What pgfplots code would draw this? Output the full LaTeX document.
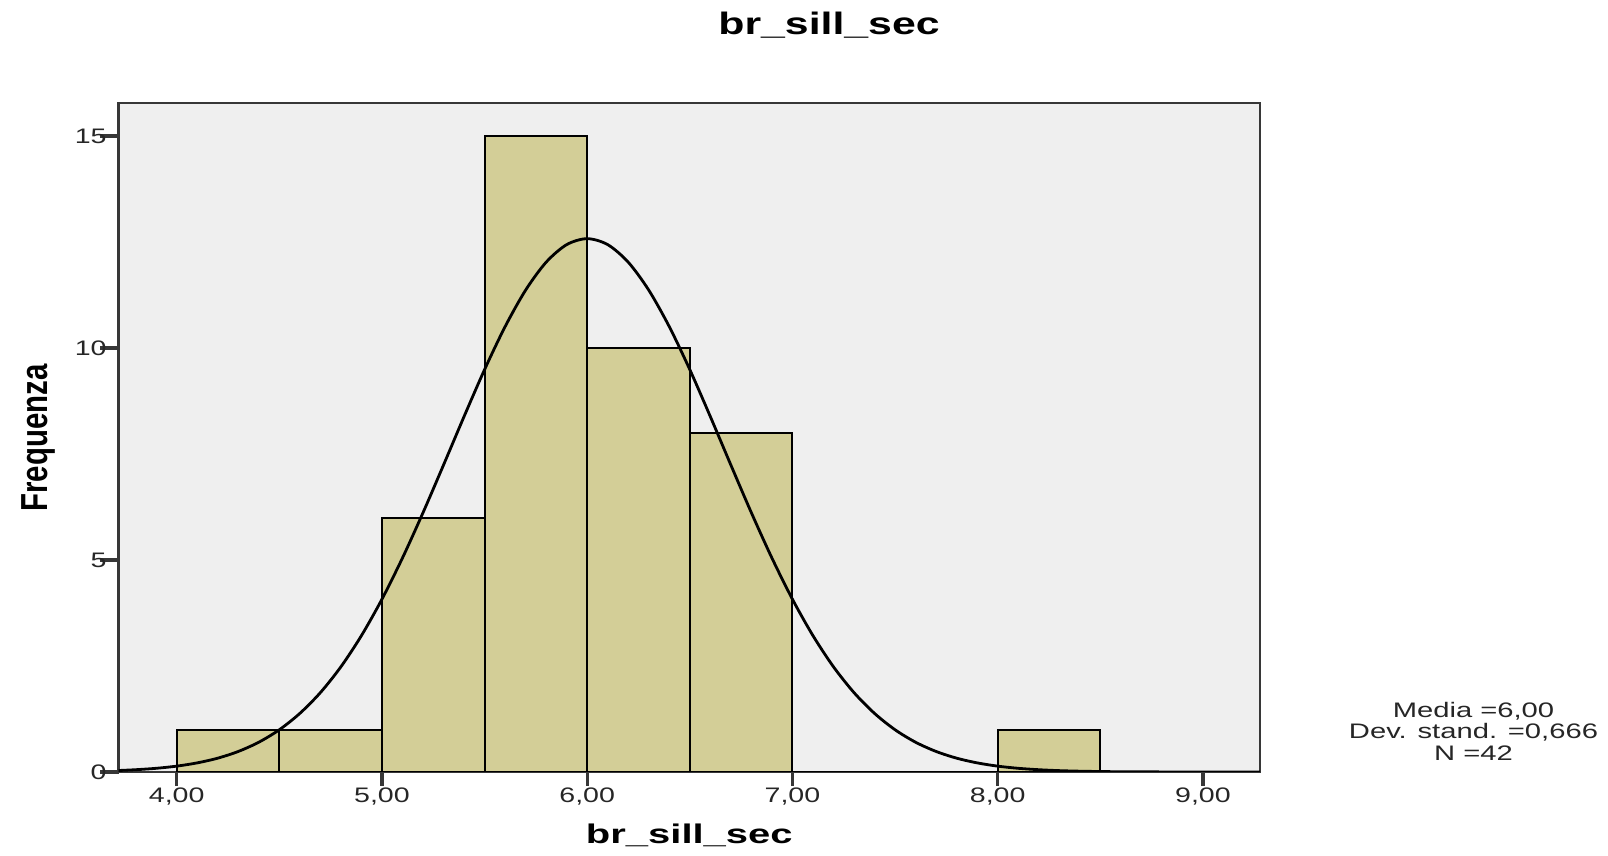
\documentclass[border=0pt]{standalone}
\usepackage{fontspec}
\setmainfont{Liberation Sans}
\usepackage{graphicx}
\usepackage{pgfplots}
\pgfplotsset{compat=1.18}
\definecolor{barcol}{RGB}{211,206,151}
\definecolor{bgcol}{RGB}{239,239,239}
\definecolor{framecol}{RGB}{55,55,55}
\newcommand\hs[2]{\scalebox{#1}[1]{#2}}
\newcommand\tk[1]{\scalebox{1.36}[1]{#1}}
\begin{document}
\begin{tikzpicture}
\begin{axis}[
  at={(0,0)}, anchor=south west,
  scale only axis,
  width=570.75pt, height=334.5pt,
  xmin=3.7165, xmax=9.278,
  ymin=0, ymax=15.78,
  axis background/.style={fill=bgcol},
  axis line style={draw=framecol, line width=1.3pt},
  tick align=outside,
  xtick pos=bottom, ytick pos=left,
  xtick={4,5,6,7,8,9},
  xticklabels={{\tk{4,00}},{\tk{5,00}},{\tk{6,00}},{\tk{7,00}},{\tk{8,00}},{\tk{9,00}}},
  ytick={0,5,10,15},
  yticklabels={\tk{0},\tk{5},\tk{10},\tk{15}},
  every tick/.append style={draw=framecol, line width=1.6pt},
  xtick style={/pgfplots/major tick length=7pt},
  ytick style={/pgfplots/major tick length=9pt},
  ticklabel style={font=\fontsize{10.5}{12}\selectfont, text=black!85},
  yticklabel style={inner xsep=1.5pt},
  clip=true,
]
\addplot[ybar interval, fill=barcol, draw=black, line width=1pt] coordinates {
 (4.0,1) (4.5,1) (5.0,6) (5.5,15) (6.0,10) (6.5,8) (7.0,0) (7.5,0) (8.0,1) (8.5,0)
};
\addplot[black, line width=1.4pt, smooth, no marks] coordinates {
 (3.6,0.019) (3.7,0.032) (3.8,0.054) (3.9,0.087) (4.0,0.138) (4.1,0.215) (4.2,0.326)
 (4.3,0.484) (4.4,0.702) (4.5,0.996) (4.6,1.382) (4.7,1.872) (4.8,2.481) (4.9,3.216)
 (5.0,4.075) (5.1,5.048) (5.2,6.115) (5.3,7.241) (5.4,8.383) (5.5,9.491) (5.6,10.504)
 (5.7,11.366) (5.8,12.025) (5.9,12.439) (6.0,12.580) (6.1,12.439) (6.2,12.025)
 (6.3,11.366) (6.4,10.504) (6.5,9.491) (6.6,8.383) (6.7,7.241) (6.8,6.115) (6.9,5.048)
 (7.0,4.075) (7.1,3.216) (7.2,2.481) (7.3,1.872) (7.4,1.382) (7.5,0.996) (7.6,0.702)
 (7.7,0.484) (7.8,0.326) (7.9,0.215) (8.0,0.138) (8.1,0.087) (8.2,0.054) (8.3,0.032)
 (8.4,0.019) (8.5,0.011) (8.6,0.006) (8.8,0.002) (9.0,0.000) (9.3,0.000)
};
\end{axis}
% title
\node[anchor=base, inner sep=0pt, font=\fontsize{15.5}{18}\selectfont\bfseries] at (355.25pt,368.5pt) {\hs{1.38}{br\_sill\_sec}};
% x label
\node[anchor=base, inner sep=0pt, font=\fontsize{13.5}{16}\selectfont\bfseries] at (285.4pt,-36pt) {\hs{1.48}{br\_sill\_sec}};
% y label
\node[rotate=90, anchor=center, inner sep=0pt, font=\fontsize{14.7}{17}\selectfont\bfseries] at (-40.25pt,167pt) {\scalebox{1}[1.28]{Frequenza}};
% statistics
\node[align=center, inner sep=0pt, font=\fontsize{10.5}{10.8}\selectfont, text=black!85] at (677.5pt,20.4pt)
 {\hs{1.39}{Media =6,00}\\\hs{1.39}{Dev. stand. =0,666}\\\hs{1.39}{N =42}};
\pgfresetboundingbox
\path[use as bounding box] (-59.25pt,-42pt) rectangle (744.75pt,386pt);
\end{tikzpicture}
\end{document}
